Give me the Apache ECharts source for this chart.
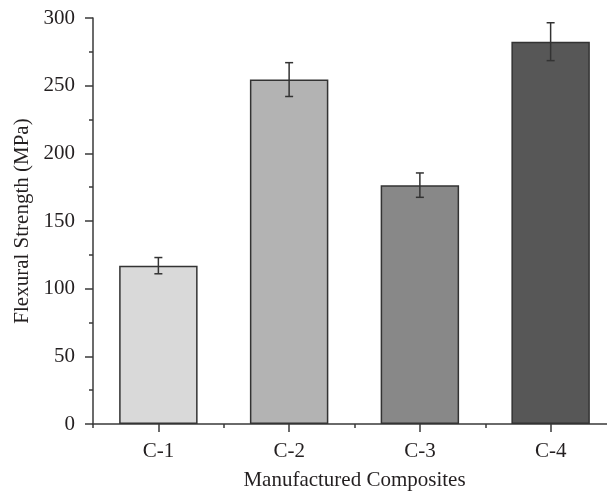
<!DOCTYPE html>
<html>
<head>
<meta charset="utf-8">
<script src="https://cdn.jsdelivr.net/npm/echarts@6/dist/echarts.min.js"></script>
<style>html,body{margin:0;padding:0;background:#fff}#c{width:607px;height:494px}</style>
</head>
<body>
<div id="c"></div>
<script>
var categories = ['C-1', 'C-2', 'C-3', 'C-4'];
var strength = [117, 254.5, 176.5, 282.5];
var errors = [6, 12.5, 9, 14];
var barColors = ['#d9d9d9', '#b3b3b3', '#888888', '#575757'];
var yTicks = [0, 50, 100, 150, 200, 250, 300];

var chart = echarts.init(document.getElementById('c'), null, {renderer: 'canvas'});
var font = 'Liberation Serif, Times New Roman, serif';
var txt = '#231f20';
var axisCol = '#3a3a3a';

var option = {
  animation: false,
  grid: {left: 93, top: 18, bottom: 70, width: 523, outerBoundsMode: 'none', containLabel: false},
  xAxis: [{
    type: 'category',
    data: categories,
    position: 'bottom',
    name: 'Manufactured Composites',
    nameLocation: 'middle',
    nameGap: 46,
    nameTextStyle: {fontFamily: font, fontSize: 21, color: txt},
    axisLine: {show: true, lineStyle: {color: axisCol, width: 1.5}},
    axisTick: {show: true, alignWithLabel: true, length: 8, lineStyle: {color: axisCol, width: 1.5}},
    axisLabel: {fontFamily: font, fontSize: 21, color: txt, margin: 17},
    splitLine: {show: false}
  }, {
    type: 'category',
    data: categories,
    position: 'bottom',
    axisLine: {show: false},
    axisTick: {show: true, alignWithLabel: false, length: 4, lineStyle: {color: axisCol, width: 1.5}},
    axisLabel: {show: false},
    splitLine: {show: false}
  }],
  yAxis: {
    type: 'value',
    min: yTicks[0],
    max: yTicks[yTicks.length - 1],
    interval: 50,
    name: 'Flexural Strength (MPa)',
    nameLocation: 'middle',
    nameGap: 60,
    nameTextStyle: {fontFamily: font, fontSize: 21, color: txt},
    axisLine: {show: true, lineStyle: {color: axisCol, width: 1.5}},
    axisTick: {show: true, length: 8, lineStyle: {color: axisCol, width: 1.5}},
    minorTick: {show: true, splitNumber: 2, length: 4, lineStyle: {color: axisCol, width: 1.5}},
    axisLabel: {fontFamily: font, fontSize: 21, color: txt, margin: 18},
    splitLine: {show: false}
  },
  series: [{
    type: 'bar',
    xAxisIndex: 0,
    barWidth: '60%',
    data: strength.map(function (v, i) {
      return {value: v, itemStyle: {color: barColors[i]}};
    }),
    itemStyle: {borderColor: '#333333', borderWidth: 1.5}
  }, {
    type: 'custom',
    xAxisIndex: 0,
    data: strength.map(function (v, i) { return [i, v - errors[i], v + errors[i]]; }),
    renderItem: function (params, api) {
      var lo = api.coord([api.value(0), api.value(1)]);
      var hi = api.coord([api.value(0), api.value(2)]);
      var hw = 4;
      var st = {stroke: '#333333', lineWidth: 1.5, fill: null};
      return {
        type: 'group',
        children: [
          {type: 'line', shape: {x1: lo[0], y1: lo[1], x2: hi[0], y2: hi[1]}, style: st},
          {type: 'line', shape: {x1: hi[0] - hw, y1: hi[1], x2: hi[0] + hw, y2: hi[1]}, style: st},
          {type: 'line', shape: {x1: lo[0] - hw, y1: lo[1], x2: lo[0] + hw, y2: lo[1]}, style: st}
        ]
      };
    },
    z: 5
  }]
};
chart.setOption(option);
</script>
</body>
</html>
